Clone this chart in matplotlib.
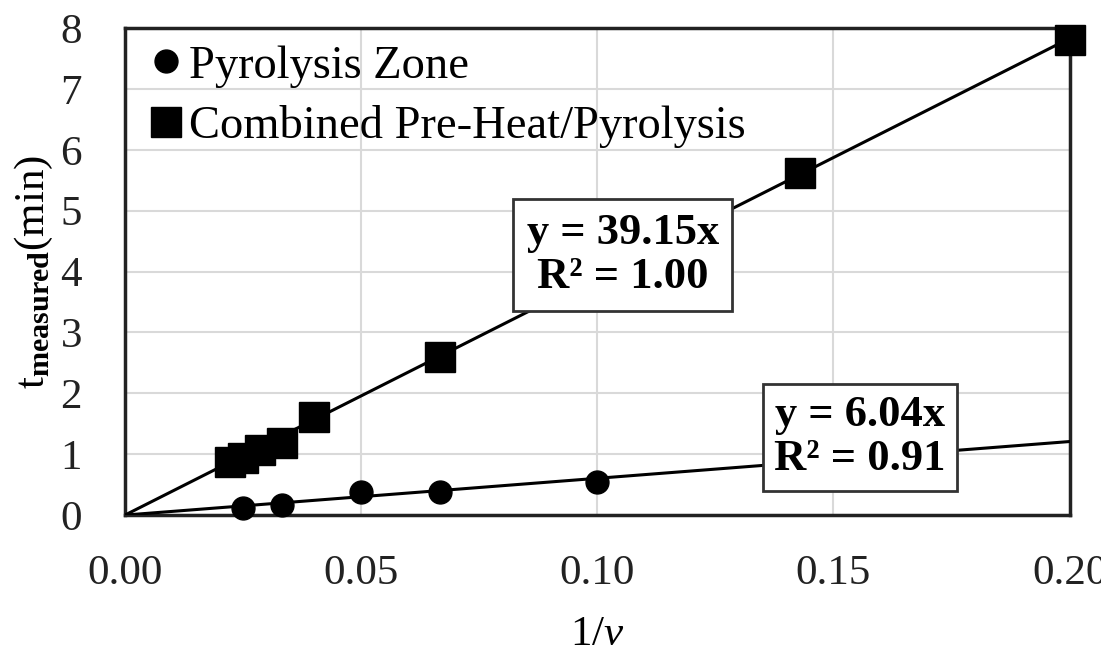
import matplotlib
matplotlib.use("Agg")
import matplotlib.pyplot as plt
import numpy as np

# Data
pyro_x = [1/40, 1/30, 1/20, 1/15, 1/10]
pyro_y = [0.12, 0.16, 0.38, 0.38, 0.54]
comb_x = [1/45, 1/40, 1/35, 1/30, 1/25, 1/15, 1/7, 1/5]
comb_y = [0.87, 0.94, 1.07, 1.18, 1.61, 2.59, 5.62, 7.80]
pyro_slope = 6.04
comb_slope = 39.15
xticks = [0.00, 0.05, 0.10, 0.15, 0.20]
yticks = [0, 1, 2, 3, 4, 5, 6, 7, 8]

plt.rcParams['font.family'] = ['Liberation Serif', 'DejaVu Serif']
plt.rcParams['mathtext.fontset'] = 'custom'
plt.rcParams['mathtext.rm'] = 'Liberation Serif'
plt.rcParams['mathtext.bf'] = 'Liberation Serif:bold'
plt.rcParams['mathtext.it'] = 'Liberation Serif:italic'

fig = plt.figure(figsize=(11.01, 6.52), dpi=100)
ax = fig.add_axes([0.1135, 0.21, 0.858, 0.747])

xl = np.array([0.0, 0.2])
ax.plot(xl, comb_slope * xl, color='black', lw=2.2, zorder=3)
ax.plot(xl, pyro_slope * xl, color='black', lw=2.2, zorder=3)

ax.plot(pyro_x, pyro_y, 'o', color='black', ms=16.5, ls='none', zorder=4,
        label='Pyrolysis Zone', clip_on=False)
ax.plot(comb_x, comb_y, 's', color='black', ms=21, ls='none', zorder=4,
        label='Combined Pre-Heat/Pyrolysis', clip_on=False)

ax.set_xlim(0, 0.2)
ax.set_ylim(0, 8)
ax.set_xticks(xticks)
ax.set_xticklabels([f"{v:.2f}" for v in xticks])
ax.set_yticks(yticks)
ax.grid(True, color='#d9d9d9', lw=1.5, zorder=0)
ax.set_axisbelow(True)
for s in ax.spines.values():
    s.set_linewidth(2.5)
    s.set_color('#222222')
ax.tick_params(axis='both', length=0, labelsize=31, colors='#222222')
ax.tick_params(axis='x', pad=28.5)
ax.tick_params(axis='y', pad=31)

ax.set_xlabel(r'$\mathregular{1/}\mathit{\nu}$', fontsize=31, labelpad=16)
ax.set_ylabel(r'$\mathregular{t_{\mathbf{measured}}(min)}$', fontsize=31, labelpad=4)

ax.text(0.1054, 4.27, 'y = 39.15x\nR² = 1.00', fontsize=32, fontweight='bold',
        ha='center', va='center', linespacing=1.15, zorder=5,
        bbox=dict(boxstyle='square,pad=0.3', fc='white', ec='#333333', lw=2))
ax.text(0.1556, 1.28, 'y = 6.04x\nR² = 0.91', fontsize=32, fontweight='bold',
        ha='center', va='center', linespacing=1.15, zorder=5,
        bbox=dict(boxstyle='square,pad=0.25', fc='white', ec='#333333', lw=2))

leg = ax.legend(loc='upper left', bbox_to_anchor=(0.019, 0.965), frameon=False,
                fontsize=33.5, handletextpad=0.0, handlelength=1.0,
                labelspacing=0.38, borderaxespad=0.0, borderpad=0.0,
                markerscale=1.0)

fig.savefig('out.png', dpi=100)
